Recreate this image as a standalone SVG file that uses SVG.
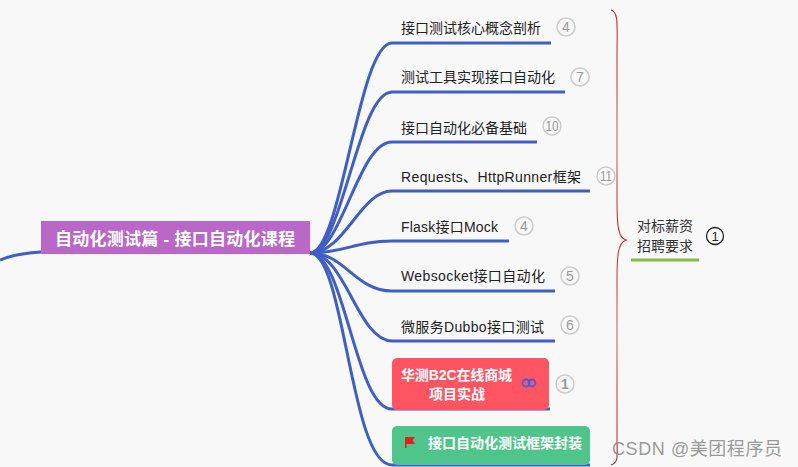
<svg xmlns="http://www.w3.org/2000/svg" width="798" height="467" viewBox="0 0 798 467">
<defs><linearGradient id="brace" x1="0" y1="0" x2="0" y2="1"><stop offset="0" stop-color="#b52b2b"/><stop offset=".3" stop-color="#c76a6a"/><stop offset=".5" stop-color="#c02a2a"/><stop offset=".7" stop-color="#c76a6a"/><stop offset="1" stop-color="#b52b2b"/></linearGradient></defs>
<style>
text{font-family:"Liberation Sans","Noto Sans CJK SC",sans-serif}
.c{fill:none;stroke:#3f5fc4;stroke-width:3;stroke-linecap:butt}
.l{font-size:14px;fill:#222}
.b{fill:#f8f8f9;stroke:#ccc;stroke-width:1.500}
.n{font-size:14px;fill:#999;text-anchor:middle}
.w{font-size:14px;font-weight:bold;fill:#fff}
.s{font-size:14px;fill:#333;text-anchor:middle}
</style>
<rect width="798" height="467" fill="#f8f8f9"/>
<g id="connectors">
<path class="c" d="M0 260C12 255 24 253 41 252"/>
<path class="c" d="M310 253C342 253 358 43 392 43H551"/>
<path class="c" d="M310 253C342 253 358 92 392 92H565"/>
<path class="c" d="M310 253C342 253 358 142 392 142H537"/>
<path class="c" d="M310 253C345 253 360 191 392 191H590"/>
<path class="c" d="M310 253C345 253 355 241 392 241H509"/>
<path class="c" d="M310 253C345 253 355 291 392 291H555"/>
<path class="c" d="M310 253C345 253 358 341 392 341H555"/>
<path class="c" d="M310 253C345 253 355 409 392 409H550"/>
<path class="c" d="M310 253C345 253 350 465 392 465H590"/>
<path d="M611 10C619 12 617 25 617 60V200C617 225 618 238 626 240C618 243 617 255 617 280V440C617 455 619 463 611 465" fill="none" stroke="url(#brace)" stroke-width="1.100"/>
<path d="M631 260H699" fill="none" stroke="#85b84a" stroke-width="3"/>
</g>
<g id="root"><rect x="41" y="221" width="269" height="33" fill="#b968c7"/><text x="55" y="245" font-size="17" font-weight="bold" fill="#fff" textLength="240">自动化测试篇 - 接口自动化课程</text></g>
<g id="n1"><text class="l" x="401" y="33">接口测试核心概念剖析</text><circle class="b" cx="566" cy="27" r="9"/><text class="n" x="566" y="32">4</text></g>
<g id="n2"><text class="l" x="401" y="82">测试工具实现接口自动化</text><circle class="b" cx="580" cy="77" r="9"/><text class="n" x="580" y="82">7</text></g>
<g id="n3"><text class="l" x="401" y="133">接口自动化必备基础</text><circle class="b" cx="552" cy="126" r="9"/><text class="n" x="552" y="131" textLength="13" lengthAdjust="spacingAndGlyphs">10</text></g>
<g id="n4"><text class="l" x="401" y="182" textLength="180">Requests、HttpRunner框架</text><circle class="b" cx="606" cy="176" r="9"/><text class="n" x="606" y="181" textLength="12" lengthAdjust="spacingAndGlyphs">11</text></g>
<g id="n5"><text class="l" x="401" y="232" textLength="97">Flask接口Mock</text><circle class="b" cx="524" cy="226" r="9"/><text class="n" x="524" y="231">4</text></g>
<g id="n6"><text class="l" x="401" y="281" textLength="144">Websocket接口自动化</text><circle class="b" cx="570" cy="276" r="9"/><text class="n" x="570" y="281">5</text></g>
<g id="n7"><text class="l" x="401" y="332" textLength="143">微服务Dubbo接口测试</text><circle class="b" cx="570" cy="325" r="9"/><text class="n" x="570" y="330">6</text></g>
<g id="n8"><rect x="392" y="358" width="157" height="52" rx="5" fill="#ff5562"/><text class="w" x="401" y="380" textLength="111">华测B2C在线商城</text><text class="w" x="429" y="399">项目实战</text><circle cx="526" cy="383" r="3.500" fill="none" stroke="#3f5fe0" stroke-width="1.800"/><circle cx="532" cy="383" r="3.500" fill="none" stroke="#3f5fe0" stroke-width="1.800"/><circle class="b" cx="565" cy="384" r="9"/><text class="n" x="565" y="389" font-weight="bold">1</text></g>
<g id="n9"><rect x="392" y="426" width="198" height="39" rx="5" fill="#4fc58b"/><path d="M405 437H415L412.500 440.500L415 444H406.500V448H405Z" fill="#e21f1f"/><text class="w" x="428" y="448">接口自动化测试框架封装</text></g>
<g id="summary"><text class="s" x="665" y="231">对标薪资</text><text class="s" x="665" y="251">招聘要求</text><circle cx="715" cy="236" r="8.500" fill="#f8f8f9" stroke="#222" stroke-width="1.300"/><text x="715" y="241" font-size="13" fill="#222" text-anchor="middle">1</text></g>
<text x="612" y="455" font-size="18" fill="#888" fill-opacity=".85" textLength="170">CSDN @美团程序员</text>
</svg>
